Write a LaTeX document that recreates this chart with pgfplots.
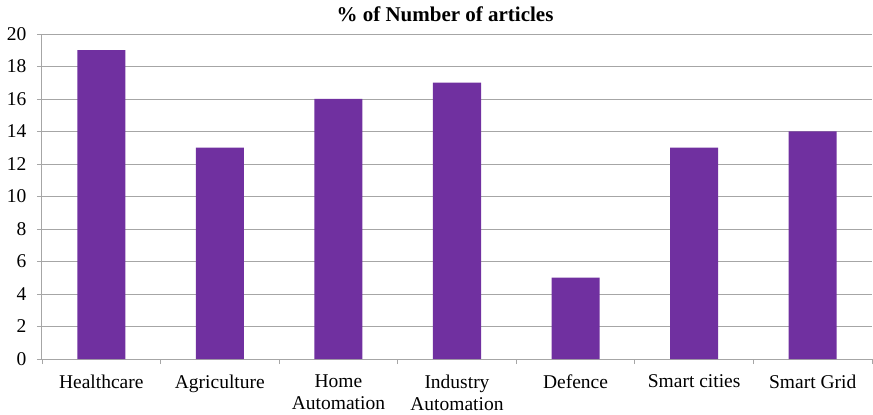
\documentclass[border=0pt]{standalone}
\usepackage{pgfplots}
\pgfplotsset{compat=1.18}
\usepackage{fontspec}
\setmainfont{Liberation Serif}
\definecolor{barpurple}{HTML}{7030A0}
\definecolor{gridgray}{HTML}{A6A6A6}
\begin{document}
\begin{tikzpicture}
\begin{axis}[
  scale only axis,
  width=830pt, height=325pt,
  xmin=-0.5, xmax=6.5,
  ymin=0, ymax=20,
  ytick={0,2,...,20},
  xtick={0,1,2,3,4,5,6},
  xticklabels={Healthcare,Agriculture,Home\\Automation,Industry\\Automation,Defence,Smart cities,Smart Grid},
  xticklabel style={align=center, font=\fontsize{19.5}{22.5}\selectfont, yshift=-7pt},
  yticklabel style={font=\fontsize{19.5}{22}\selectfont, xshift=-7pt},
  /pgf/number format/assume math mode=true,
  minor xtick={-0.5,0.5,1.5,2.5,3.5,4.5,5.5,6.5},
  major x tick style={draw=none},
  tick align=outside,
  major tick length=5pt,
  minor tick length=5pt,
  tick style={draw=gridgray, line width=0.8pt},
  axis x line*=bottom,
  axis y line*=left,
  axis line style={draw=gridgray, line width=1pt, -},
  ymajorgrids,
  grid style={draw=gridgray, line width=0.8pt},
  title={\% of Number of articles},
  title style={font=\bfseries\fontsize{21}{24}\selectfont, at={(0.5,1)}, anchor=south, yshift=3pt, xshift=-12pt},
  ybar,
  bar width=0.405,
  enlarge x limits=false,
]
\addplot[fill=barpurple, draw=none] coordinates {(0,19) (1,13) (2,16) (3,17) (4,5) (5,13) (6,14)};
\end{axis}
\pgfresetboundingbox
\path[use as bounding box] (current axis.south west) ++(-42pt,-56pt) rectangle ++(873pt,415pt);
\end{tikzpicture}
\end{document}
